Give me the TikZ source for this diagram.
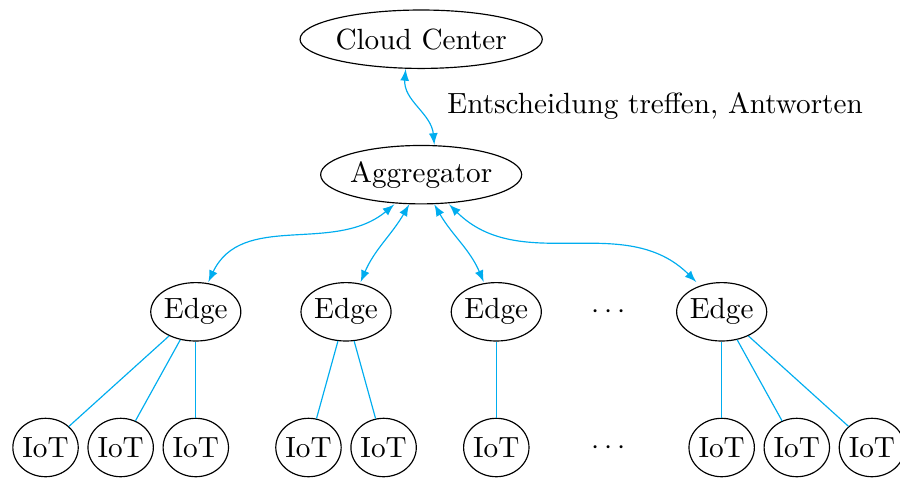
\documentclass[tikz,border=0pt]{standalone}
\usepackage{xcolor}
\usepackage{tikz}
\usetikzlibrary{positioning}
\usetikzlibrary{arrows,shapes}
\usetikzlibrary{calc}
\tikzstyle{station}=[ellipse,draw,inner sep=0pt,minimum height=2em]
\tikzstyle{gap}=[inner sep=0pt]
\tikzstyle{link} = [draw,cyan]
\tikzstyle{duplex} = [draw,cyan,<->,>=latex]
\tikzstyle{note} = [anchor=west]

\begin{document}
\begin{tikzpicture}
 \useasboundingbox (0,0) rectangle (10.83,5.752);

 \def\u{0.904};
 \def\dx{0.548};

 %Cloud + Aggregator
  \def\dy{0};
   \foreach \x/\y/\name/\label in {5/5.28/cloud/Cloud Center, 5/3.65/agg/Aggregator}
          \node[station] (\name) at (\x*\u+\dx, \y + \dy) {\label};

  \path[duplex] ([xshift=-5.3pt]cloud.south) to[out=-95,in=95] ([xshift=4.5pt]agg.north);
  \node[note] (answer) at (5.26,4.48) {Entscheidung treffen, Antworten};

 %Edge
  \def\dy{2.00};
   \foreach \x/\name in {2/e1, 4/e2, 6/e3, 9/e4}
          \node[station] (\name) at (\x*\u+\dx, \dy) {Edge};
   \node[gap] (d1) at (7.5*\u+\dx, \dy) {$\cdots$};

  \foreach \dest/\sx/\ex/\o/\i in {e1/-9.2/4.3/-140/65, e2/-4.1/5/-120/67, e3/4.5/-4.3/-60/113, e4/9.6/-8.7/-45/135}
         \path[duplex] ([xshift=\sx pt]agg.south) to[out=\o,in=\i] ([xshift=\ex pt]\dest.north);

 %IoT
  \def\dy{0.367};
   \foreach \x/\name in {0/i1, 1/i2, 2/i3, 3.5/i4, 4.5/i5, 6/i6, 9/i7, 10/i8, 11/i9}
          \node[station] (\name) at (\x*\u+\dx, \dy) {IoT};
   \node[gap] (d2) at (7.5*\u+\dx, \dy) {$\cdots$};

  \foreach \source/ \dest in {e1/i1, e1/i2, e1/i3, e2/i4, e2/i5, e3/i6, e4/i7, e4/i8, e4/i9}
         \path[link] (\source) -- (\dest);

\end{tikzpicture}
\end{document}
